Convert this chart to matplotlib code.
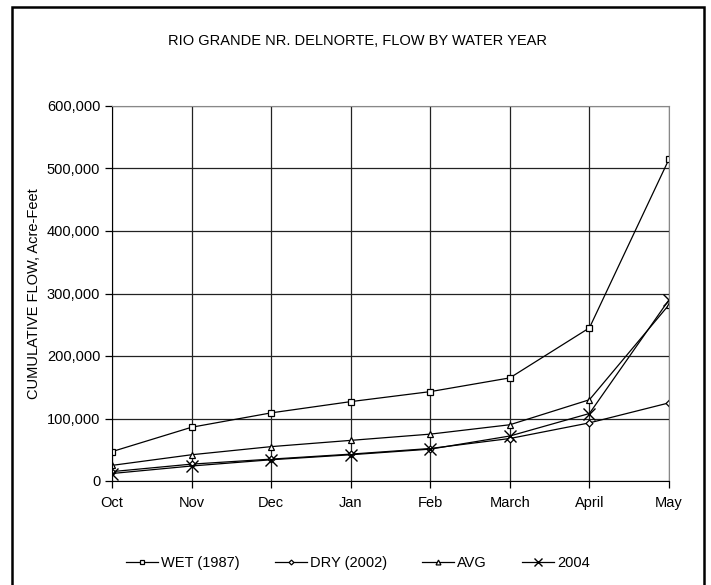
import matplotlib.pyplot as plt
from matplotlib.patches import Rectangle
from matplotlib.ticker import FuncFormatter

plt.rcParams['font.family'] = ['Liberation Sans', 'DejaVu Sans']

months = ["Oct", "Nov", "Dec", "Jan", "Feb", "March", "April", "May"]
wet_1987 = [47000, 86000, 109000, 127000, 143000, 165000, 245000, 515000]
dry_2002 = [15000, 27000, 35000, 43000, 52000, 68000, 93000, 125000]
avg = [25000, 42000, 55000, 65000, 75000, 90000, 130000, 282000]
wy_2004 = [12000, 24000, 34000, 42000, 51000, 72000, 108000, 290000]

fig = plt.figure(figsize=(7.11, 5.85), dpi=100)
ax = fig.add_axes([112 / 711, 1 - 481 / 585, (669 - 112) / 711, (481 - 106) / 585])

x = range(len(months))
ax.plot(x, wet_1987, color="black", lw=0.9, marker="s", ms=5, mfc="white", mec="black", mew=0.9, label="WET (1987)")
ax.plot(x, dry_2002, color="black", lw=0.9, marker="D", ms=3.5, mfc="white", mec="black", mew=0.9, label="DRY (2002)")
ax.plot(x, avg, color="black", lw=0.9, marker="^", ms=5, mfc="white", mec="black", mew=0.9, label="AVG")
ax.plot(x, wy_2004, color="black", lw=0.9, marker="x", ms=9, mec="black", mew=1.0, label="2004")

ax.set_xlim(0, len(months) - 1)
ax.set_ylim(0, 600000)
ax.set_xticks(list(x))
ax.set_xticklabels(months)
ax.set_yticks(range(0, 600001, 100000))
ax.yaxis.set_major_formatter(FuncFormatter(lambda v, p: f"{int(v):,}"))
ax.grid(True, color="#222222", lw=0.9)
ax.set_axisbelow(True)
for s in ["top", "right"]:
    ax.spines[s].set_color("#888888")
for s in ["left", "bottom"]:
    ax.spines[s].set_color("black")
ax.tick_params(axis="both", labelsize=10.5, length=5, width=0.9, direction="out")
ax.tick_params(axis="x", pad=6)
ax.set_ylabel("CUMULATIVE FLOW, Acre-Feet", fontsize=10.5, labelpad=4)

fig.text(358 / 711, 1 - 41 / 585, "RIO GRANDE NR. DELNORTE, FLOW BY WATER YEAR", ha="center", va="center", fontsize=10.5)

fig.legend(loc="center", bbox_to_anchor=(358 / 711, 1 - 563 / 585), ncol=4, frameon=False,
           fontsize=10.5, handlelength=2.2, columnspacing=2.4, handletextpad=0.2, markerscale=0.7)

fig.patches.append(Rectangle((12 / 711, -0.05), (704 - 12) / 711, 1.05 - 7 / 585, transform=fig.transFigure,
                             fill=False, edgecolor="black", lw=1.8))

plt.savefig("out.png", dpi=100)
